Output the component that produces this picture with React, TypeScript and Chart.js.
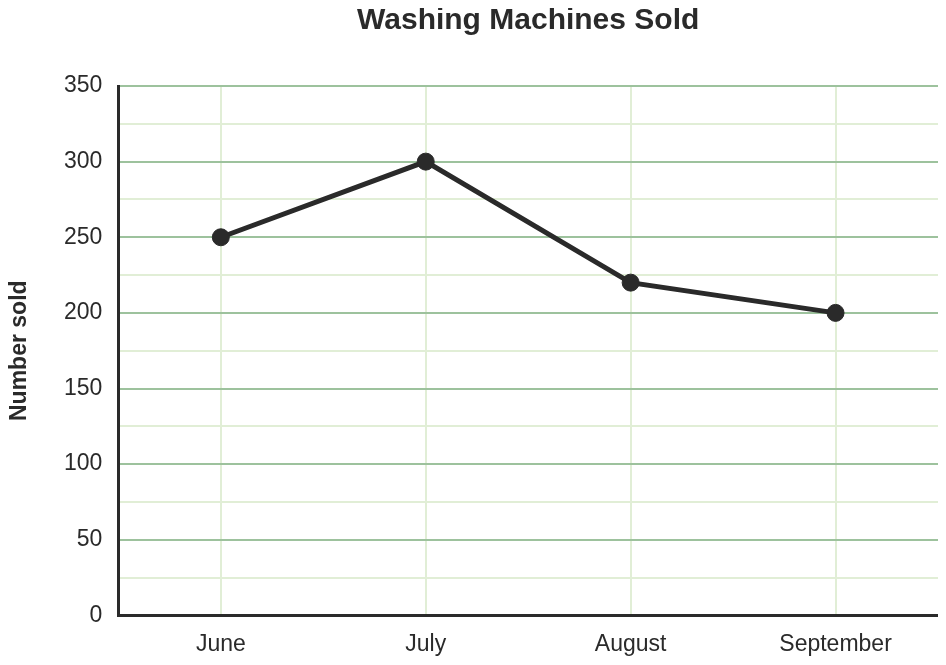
import React, { useEffect, useRef } from "react";
import { Chart, registerables } from "chart.js";

Chart.register(...registerables);

const categories = ["June", "July", "August", "September"];
const sold = [250, 300, 220, 200];
const titleText = "Washing Machines Sold";
const yAxisTitle = "Number sold";

const FONT = "'Liberation Sans', Arial, sans-serif";
const DARK = "#2a2a2a";

const areaTitlePlugin = {
  id: "areaTitle",
  afterDraw(chart: any) {
    const { ctx, chartArea } = chart;
    ctx.save();
    ctx.font = `bold 30px ${FONT}`;
    ctx.fillStyle = DARK;
    ctx.textAlign = "center";
    ctx.textBaseline = "middle";
    ctx.fillText(titleText, (chartArea.left + chartArea.right) / 2, 13);
    ctx.restore();
  },
};

export default function App() {
  const ref = useRef<HTMLCanvasElement | null>(null);
  useEffect(() => {
    if (!ref.current) return;
    const chart = new Chart(ref.current, {
      type: "line",
      data: {
        labels: categories,
        datasets: [
          {
            data: sold,
            borderColor: DARK,
            backgroundColor: DARK,
            borderWidth: 5,
            pointRadius: 8.5,
            pointBorderWidth: 1,
            pointHoverRadius: 8.5,
            pointBackgroundColor: DARK,
            pointBorderColor: DARK,
            tension: 0,
          },
        ],
      },
      options: {
        animation: false,
        responsive: false,
        layout: {
          autoPadding: false,
          padding: { top: 78, right: 0, left: 0, bottom: -16 },
        },
        plugins: {
          legend: { display: false },
          title: { display: false },
          tooltip: { enabled: false },
        },
        scales: {
          x: {
            offset: true,
            grid: {
              offset: false,
              color: "#e1eed6",
              lineWidth: 2,
              drawTicks: false,
            },
            border: { color: DARK, width: 3 },
            ticks: {
              color: DARK,
              font: { family: FONT, size: 23 },
              padding: 15,
            },
          },
          y: {
            min: 0,
            max: 350,
            grid: {
              color: (c: any) =>
                c.tick && c.tick.value % 50 === 0 ? "#9dc29d" : "#e1eed6",
              lineWidth: 2,
              drawTicks: false,
            },
            border: { color: DARK, width: 3 },
            ticks: {
              stepSize: 25,
              color: DARK,
              font: { family: FONT, size: 23 },
              padding: 16,
              callback: (v: any) => (Number(v) % 50 === 0 ? String(v) : ""),
            },
            title: {
              display: true,
              text: yAxisTitle,
              color: DARK,
              font: { family: FONT, size: 23, weight: "bold", lineHeight: 1 },
              padding: { top: 0, bottom: 17 },
            },
          },
        },
      },
      plugins: [areaTitlePlugin],
    });
    return () => chart.destroy();
  }, []);
  return <canvas ref={ref} width={930} height={649} style={{ display: "block" }} />;
}
